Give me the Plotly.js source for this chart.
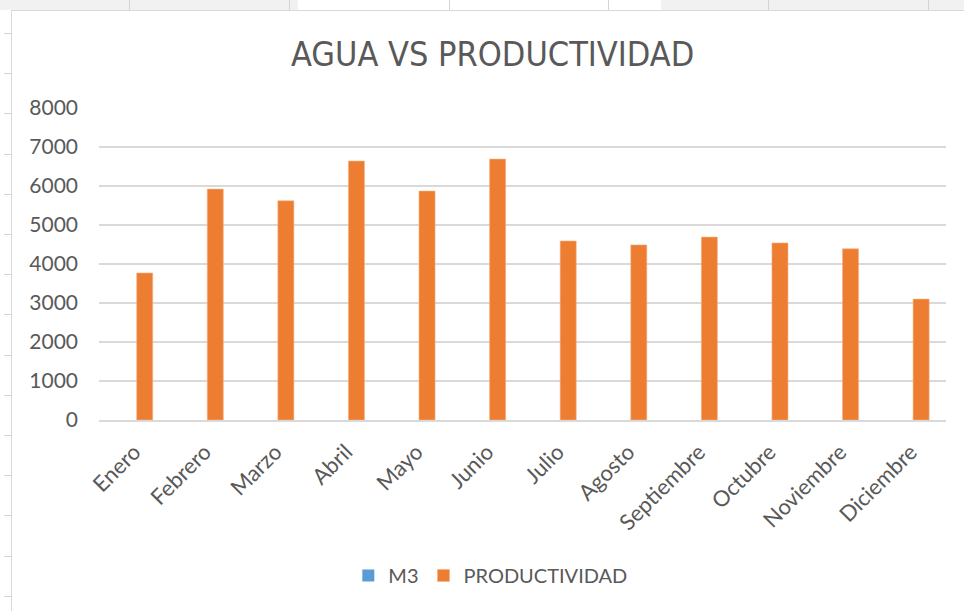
<!DOCTYPE html>
<html>
<head>
<meta charset="utf-8">
<script src="https://cdn.plot.ly/plotly-3.0.1.min.js"></script>
<style>
  html, body { margin: 0; padding: 0; background: #ffffff; }
  #wrap { position: relative; width: 964px; height: 611px; overflow: hidden; }
  .strip { position: absolute; top: 0; height: 10px; background: #f1f1f1; }
  .colline { position: absolute; top: 0; width: 1px; height: 10px; background: #d4d4d4; }
  .rowline { position: absolute; left: 4px; width: 7px; height: 1px; background: #d4d4d4; }
  #frame { position: absolute; left: 11px; top: 10px; width: 970px; height: 620px;
           border: 1.5px solid #d9d9d9; background: #ffffff; box-sizing: border-box; }
  #chart { position: absolute; left: 0; top: 0; width: 964px; height: 611px; }
</style>
</head>
<body>
<div id="wrap">
  <div class="strip" style="left:0;width:298px"></div>
  <div class="strip" style="left:661px;width:303px"></div>
  <div id="frame"></div>
  <div id="chart"></div>
</div>
<script>
// Monthly figures
const meses = ['Enero', 'Febrero', 'Marzo', 'Abril', 'Mayo', 'Junio',
               'Julio', 'Agosto', 'Septiembre', 'Octubre', 'Noviembre', 'Diciembre'];
const m3 = [0, 0, 0, 0, 0, 0, 0, 0, 0, 0, 0, 0];
const productividad = [3770, 5920, 5620, 6640, 5870, 6690, 4590, 4490, 4690, 4540, 4390, 3100];
const yTicks = [0, 1000, 2000, 3000, 4000, 5000, 6000, 7000, 8000];

// Spreadsheet column / row separators around the chart frame
const wrap = document.getElementById('wrap');
const frame = document.getElementById('frame');
[129, 289, 449, 608, 768, 928].forEach(x => {
  const d = document.createElement('div');
  d.className = 'colline'; d.style.left = x + 'px'; wrap.insertBefore(d, frame);
});
for (let y = 33; y < 611; y += 40.2) {
  const d = document.createElement('div');
  d.className = 'rowline'; d.style.top = Math.round(y) + 'px'; wrap.insertBefore(d, frame);
}

const font = 'Lato, "Open Sans", sans-serif';
const grey = '#595959';

const traces = [
  { type: 'bar', name: 'M3', x: meses, y: m3, marker: { color: '#5b9bd5' } },
  { type: 'bar', name: 'PRODUCTIVIDAD', x: meses, y: productividad,
    marker: { color: '#ed7d31', line: { color: '#f4b183', width: 0.6 } } }
];

const layout = {
  width: 964, height: 611,
  margin: { l: 99, r: 18, t: 108, b: 190.5 },
  paper_bgcolor: 'rgba(0,0,0,0)',
  plot_bgcolor: 'rgba(0,0,0,0)',
  barmode: 'group',
  bargap: 0.41,
  bargroupgap: 0.23,
  showlegend: true,
  title: {
    text: 'AGUA VS PRODUCTIVIDAD',
    font: { family: '"Liberation Sans Narrow", "DejaVu Sans Condensed", Lato, sans-serif', size: 34, color: grey },
    x: 0.511, xref: 'container', xanchor: 'center',
    y: 0.912, yref: 'container', yanchor: 'middle'
  },
  xaxis: {
    type: 'category',
    tickangle: -45,
    tickfont: { family: font, size: 22, color: grey },
    showgrid: false, zeroline: false,
    showline: true, linecolor: '#d9d9d9', linewidth: 1.5,
    ticks: '', ticklabelstandoff: 9, fixedrange: true
  },
  yaxis: {
    range: [0, 8000],
    tickvals: yTicks,
    ticktext: yTicks.map(String),
    tickfont: { family: font, size: 21, color: grey },
    showgrid: true, gridcolor: '#d9d9d9', gridwidth: 1.5,
    zeroline: false, showline: false,
    ticks: '', ticklabelstandoff: 20, fixedrange: true
  },
  legend: {
    orientation: 'h',
    x: 0.462, xanchor: 'center',
    y: -0.498, yanchor: 'middle',
    font: { family: font, size: 20, color: grey },
    itemclick: false, itemdoubleclick: false
  }
};

Plotly.newPlot('chart', traces, layout, { displayModeBar: false, staticPlot: true });
</script>
</body>
</html>
